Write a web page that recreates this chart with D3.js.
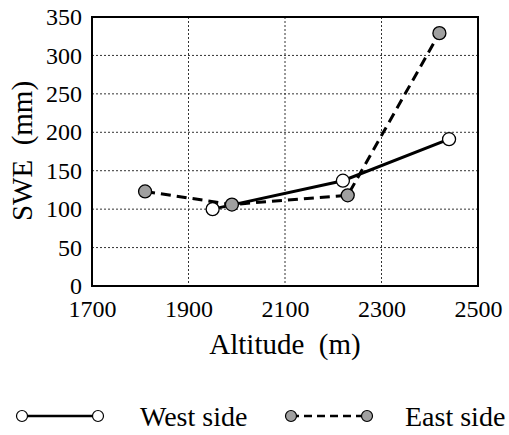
<!DOCTYPE html>
<html>
<head>
<meta charset="utf-8">
<script src="https://cdn.jsdelivr.net/npm/d3@7"></script>
<style>
  body { margin: 0; background: #fff; }
</style>
</head>
<body>
<div id="chart"></div>
<script>
var xTicks = [1700, 1900, 2100, 2300, 2500];
var yTicks = [0, 50, 100, 150, 200, 250, 300, 350];

var westAlt = [1950, 2220, 2440];
var westSwe = [100, 137, 191];
var eastAlt = [1810, 1990, 2230, 2420];
var eastSwe = [123, 106, 118, 329];

var fontName = '"Liberation Serif"';

var svgWidth = 509;
var svgHeight = 435;
var margin = { top: 17, right: 31, bottom: 149, left: 92 };
var width = svgWidth - margin.left - margin.right;
var height = svgHeight - margin.top - margin.bottom;

var svg = d3.select("#chart")
    .append("svg")
    .attr("width", svgWidth)
    .attr("height", svgHeight)
    .style("font-family", fontName);

var chartGroup = svg.append("g")
    .attr("transform", `translate(${margin.left}, ${margin.top})`);

var x = d3.scaleLinear().domain([1700, 2500]).range([0, width]);
var y = d3.scaleLinear().domain([0, 350]).range([height, 0]);

// grid
chartGroup.append("g")
    .selectAll("line")
    .data(yTicks.slice(1, -1))
    .enter()
    .append("line")
    .attr("x1", 0).attr("x2", width)
    .attr("y1", d => y(d)).attr("y2", d => y(d))
    .attr("stroke", "#333")
    .attr("stroke-width", 1)
    .attr("stroke-dasharray", "2,2");

chartGroup.append("g")
    .selectAll("line")
    .data(xTicks.slice(1, -1))
    .enter()
    .append("line")
    .attr("y1", 0).attr("y2", height)
    .attr("x1", d => x(d)).attr("x2", d => x(d))
    .attr("stroke", "#333")
    .attr("stroke-width", 1)
    .attr("stroke-dasharray", "2,2");

var xAxis = chartGroup.append("g")
    .attr("transform", `translate(0, ${height})`)
    .call(d3.axisBottom(x).tickValues(xTicks).tickSize(0).tickPadding(14).tickFormat(d3.format("d")));
var yAxis = chartGroup.append("g")
    .call(d3.axisLeft(y).tickValues(yTicks).tickSize(0).tickPadding(10));

[xAxis, yAxis].forEach(function (a) {
    a.select(".domain").remove();
    a.attr("font-family", null).attr("font-size", null);
    a.selectAll("text")
        .style("font-family", fontName)
        .style("font-size", "24px")
        .attr("fill", "#000");
});

// frame
chartGroup.append("rect")
    .attr("width", width)
    .attr("height", height)
    .attr("fill", "none")
    .attr("stroke", "#000")
    .attr("stroke-width", 2);

var line = d3.line().x(d => x(d[0])).y(d => y(d[1]));
var west = westAlt.map((a, i) => [a, westSwe[i]]);
var east = eastAlt.map((a, i) => [a, eastSwe[i]]);

chartGroup.append("path")
    .datum(east)
    .attr("d", line)
    .attr("fill", "none")
    .attr("stroke", "#000")
    .attr("stroke-width", 3)
    .attr("stroke-dasharray", "10,6");

chartGroup.append("path")
    .datum(west)
    .attr("d", line)
    .attr("fill", "none")
    .attr("stroke", "#000")
    .attr("stroke-width", 3);

chartGroup.append("g")
    .selectAll("circle")
    .data(east)
    .enter()
    .append("circle")
    .attr("cx", d => x(d[0]))
    .attr("cy", d => y(d[1]))
    .attr("r", 6.5)
    .attr("fill", "#a0a0a0")
    .attr("stroke", "#000")
    .attr("stroke-width", 1.3);

chartGroup.append("g")
    .selectAll("circle")
    .data(west)
    .enter()
    .append("circle")
    .attr("cx", d => x(d[0]))
    .attr("cy", d => y(d[1]))
    .attr("r", 6.5)
    .attr("fill", "#fff")
    .attr("stroke", "#000")
    .attr("stroke-width", 1.3);

// axis titles
svg.append("text")
    .attr("x", 285)
    .attr("y", 354)
    .attr("text-anchor", "middle")
    .style("font-family", fontName)
    .style("font-size", "29px")
    .style("white-space", "pre")
    .text("Altitude  (m)");

svg.append("text")
    .attr("transform", "translate(32, 151) rotate(-90)")
    .attr("text-anchor", "middle")
    .style("font-family", fontName)
    .style("font-size", "29px")
    .style("white-space", "pre")
    .text("SWE  (mm)");

// legend
var legend = svg.append("g");
var ly = 416;

legend.append("line")
    .attr("x1", 22).attr("x2", 98).attr("y1", ly).attr("y2", ly)
    .attr("stroke", "#000").attr("stroke-width", 2.5);
legend.selectAll("circle.w")
    .data([22, 98])
    .enter()
    .append("circle")
    .attr("cx", d => d).attr("cy", ly).attr("r", 5.5)
    .attr("fill", "#fff").attr("stroke", "#000").attr("stroke-width", 1.2);
legend.append("text")
    .attr("x", 140).attr("y", ly + 10)
    .style("font-family", fontName)
    .style("font-size", "28px")
    .text("West side");

legend.append("line")
    .attr("x1", 291).attr("x2", 367).attr("y1", ly).attr("y2", ly)
    .attr("stroke", "#000").attr("stroke-width", 2.5)
    .attr("stroke-dasharray", "8,5");
legend.selectAll("circle.e")
    .data([291, 367])
    .enter()
    .append("circle")
    .attr("cx", d => d).attr("cy", ly).attr("r", 5.5)
    .attr("fill", "#a0a0a0").attr("stroke", "#000").attr("stroke-width", 1.2);
legend.append("text")
    .attr("x", 405).attr("y", ly + 10)
    .style("font-family", fontName)
    .style("font-size", "28px")
    .text("East side");
</script>
</body>
</html>
